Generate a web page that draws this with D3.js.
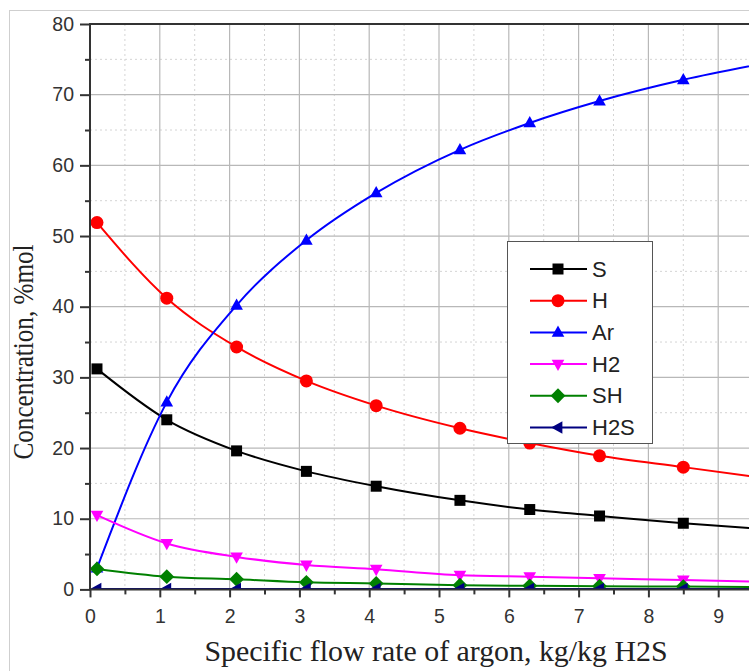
<!DOCTYPE html>
<html><head><meta charset="utf-8">
<script src="https://cdn.jsdelivr.net/npm/d3@7"></script>
<style>html,body{margin:0;padding:0;background:#fff;overflow:hidden}</style>
</head><body>
<svg id="c" width="749" height="671"></svg>
<script>
const xValues = [0.1, 1.1, 2.1, 3.1, 4.1, 5.3, 6.3, 7.3, 8.5, 9.7];
const S   = [31.2, 24.0, 19.6, 16.7, 14.6, 12.6, 11.3, 10.4, 9.35, 8.5];
const H   = [51.9, 41.2, 34.3, 29.5, 26.0, 22.8, 20.7, 18.9, 17.3, 15.7];
const Ar  = [3.0, 26.5, 40.2, 49.4, 56.1, 62.2, 66.0, 69.1, 72.1, 74.5];
const H2  = [10.5, 6.5, 4.6, 3.45, 2.85, 2.0, 1.8, 1.57, 1.33, 1.05];
const SH  = [2.9, 1.8, 1.43, 1.0, 0.85, 0.6, 0.5, 0.45, 0.4, 0.33];
const H2S = [0.05, 0.05, 0.05, 0.05, 0.05, 0.05, 0.05, 0.05, 0.05, 0.05];
const seriesNames = ["S", "H", "Ar", "H2", "SH", "H2S"];
const seriesColors = ["#000000", "#ff0000", "#0000ff", "#ff00ff", "#008000", "#000080"];
const seriesSymbols = ["square", "circle", "triUp", "triDown", "diamond", "triLeft"];
const xTicks = [0,1,2,3,4,5,6,7,8,9];
const yTicks = [0,10,20,30,40,50,60,70,80];
const xTitle = "Specific flow rate of argon, kg/kg H2S";
const yTitle = "Concentration, %mol";

const seriesData = [S, H, Ar, H2, SH, H2S];
const svg = d3.select("#c");
const L = 90, T = 24, B = 589.4, R = 788;
const x = d3.scaleLinear().domain([0, 10]).range([L, R]);
const y = d3.scaleLinear().domain([0, 80]).range([B, T]);

// outer frame
svg.append("rect").attr("x", 9.5).attr("y", 10.5).attr("width", 800).attr("height", 700)
  .attr("fill", "none").attr("stroke", "#cfcfcf").attr("stroke-width", 1);

const defs = svg.append("defs");
defs.append("clipPath").attr("id", "clip").append("rect")
  .attr("x", L).attr("y", T).attr("width", R - L).attr("height", B - T);

// minor grid
const gGrid = svg.append("g");
d3.range(0.5, 10, 1).forEach(v => gGrid.append("line")
  .attr("x1", x(v)).attr("x2", x(v)).attr("y1", T).attr("y2", B)
  .attr("stroke", "#d4d4d4").attr("stroke-dasharray", "2,3"));
d3.range(5, 80, 10).forEach(v => gGrid.append("line")
  .attr("x1", L).attr("x2", R).attr("y1", y(v)).attr("y2", y(v))
  .attr("stroke", "#d4d4d4").attr("stroke-dasharray", "2,3"));
// major grid
xTicks.forEach(v => { if (v > 0) gGrid.append("line")
  .attr("x1", x(v)).attr("x2", x(v)).attr("y1", T).attr("y2", B)
  .attr("stroke", "#b8b8b8").attr("stroke-width", 1.2); });
yTicks.forEach(v => { if (v > 0 && v < 80) gGrid.append("line")
  .attr("x1", L).attr("x2", R).attr("y1", y(v)).attr("y2", y(v))
  .attr("stroke", "#b8b8b8").attr("stroke-width", 1.2); });

// series
const plot = svg.append("g").attr("clip-path", "url(#clip)");
const line = d3.line().x(d => x(d[0])).y(d => y(d[1])).curve(d3.curveMonotoneX);

function symPath(kind, s) {
  switch (kind) {
    case "square": return `M${-s},${-s}h${2*s}v${2*s}h${-2*s}Z`;
    case "circle": return d3.symbol(d3.symbolCircle, Math.PI * (s+1) * (s+1))();
    case "triUp": return `M0,${-s*1.25}L${s*1.15},${s*0.8}L${-s*1.15},${s*0.8}Z`;
    case "triDown": return `M0,${s*1.25}L${s*1.15},${-s*0.8}L${-s*1.15},${-s*0.8}Z`;
    case "triLeft": return `M${-s*1.25},0L${s*0.8},${-s*1.15}L${s*0.8},${s*1.15}Z`;
    case "diamond": return `M0,${-s*1.35}L${s*1.35},0L0,${s*1.35}L${-s*1.35},0Z`;
  }
}

seriesData.forEach((vals, i) => {
  const pts = xValues.map((xv, j) => [xv, vals[j]]);
  plot.append("path").datum(pts).attr("d", line)
    .attr("fill", "none").attr("stroke", seriesColors[i]).attr("stroke-width", 2);
  plot.selectAll(null).data(pts).enter().append("path")
    .attr("transform", d => `translate(${x(d[0])},${y(d[1])})`)
    .attr("d", symPath(seriesSymbols[i], 5.5))
    .attr("fill", seriesColors[i]);
});

// axes
const axisColor = "#333";
svg.append("line").attr("x1", L).attr("x2", R).attr("y1", T).attr("y2", T)
  .attr("stroke", axisColor).attr("stroke-width", 2);
const yAxis = svg.append("g").attr("transform", `translate(${L},0)`)
  .call(d3.axisLeft(y).tickValues(yTicks).tickSize(10).tickPadding(6).tickFormat(d3.format("d")));
yAxis.select(".domain").remove();
svg.append("g").attr("transform", `translate(${L},0)`)
  .call(d3.axisLeft(y).tickValues(d3.range(5, 80, 10)).tickSize(5).tickFormat(""))
  .select(".domain").remove();
const xAxis = svg.append("g").attr("transform", `translate(0,${B})`)
  .call(d3.axisBottom(x).tickValues(xTicks).tickSize(8).tickPadding(12).tickFormat(d3.format("d")));
xAxis.select(".domain").remove();
svg.append("g").attr("transform", `translate(0,${B})`)
  .call(d3.axisBottom(x).tickValues(d3.range(0.5, 10, 1)).tickSize(5).tickFormat(""))
  .select(".domain").remove();
svg.selectAll(".tick line").attr("stroke", axisColor).attr("stroke-width", 2);
svg.selectAll(".tick text").attr("fill", "#333")
  .style("font-family", "'Liberation Sans', Arial, sans-serif").style("font-size", "19.5px");
svg.append("line").attr("x1", L).attr("x2", L).attr("y1", T - 1).attr("y2", B + 1)
  .attr("stroke", axisColor).attr("stroke-width", 2);
svg.append("line").attr("x1", L - 1).attr("x2", R).attr("y1", B).attr("y2", B)
  .attr("stroke", axisColor).attr("stroke-width", 2);

// titles
svg.append("text").attr("x", 436).attr("y", 661).attr("text-anchor", "middle")
  .style("font-family", "'Liberation Serif', 'Times New Roman', serif").style("font-size", "30px")
  .attr("textLength", 463).attr("lengthAdjust", "spacingAndGlyphs")
  .attr("fill", "#222").text(xTitle);
svg.append("text").attr("transform", "translate(33,352) rotate(-90)").attr("text-anchor", "middle")
  .style("font-family", "'Liberation Serif', 'Times New Roman', serif").style("font-size", "29px")
  .attr("textLength", 215).attr("lengthAdjust", "spacingAndGlyphs")
  .attr("fill", "#222").text(yTitle);

// legend
const lg = svg.append("g");
lg.append("rect").attr("x", 507.5).attr("y", 241.5).attr("width", 145).attr("height", 202)
  .attr("fill", "#fff").attr("stroke", "#555").attr("stroke-width", 1);
seriesNames.forEach((n, i) => {
  const yy = 269 + i * 31.7;
  lg.append("line").attr("x1", 530).attr("x2", 587).attr("y1", yy).attr("y2", yy)
    .attr("stroke", seriesColors[i]).attr("stroke-width", 2);
  lg.append("path").attr("transform", `translate(558,${yy})`)
    .attr("d", symPath(seriesSymbols[i], 5.5)).attr("fill", seriesColors[i]);
  lg.append("text").attr("x", 592).attr("y", yy + 7.5).text(n)
    .style("font-family", "'Liberation Sans', Arial, sans-serif").style("font-size", "22px").attr("fill", "#222");
});
</script>
</body></html>
